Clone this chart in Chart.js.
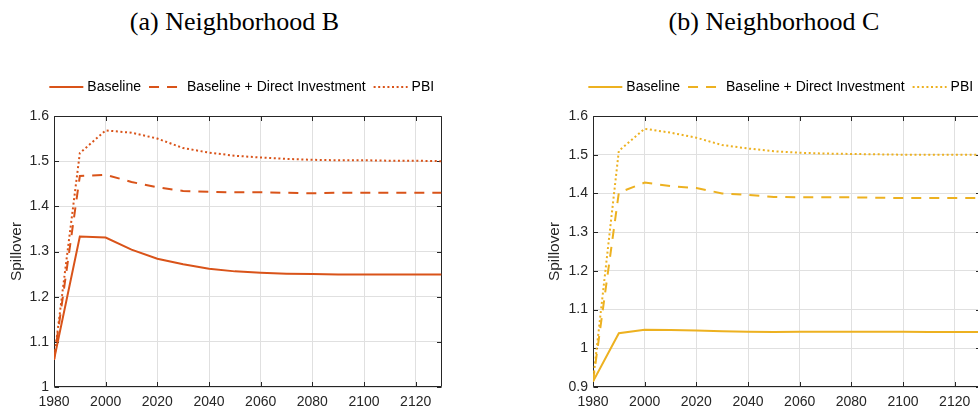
<!DOCTYPE html>
<html>
<head>
<meta charset="utf-8">
<title>Spillover by neighborhood</title>
<script src="https://cdn.jsdelivr.net/npm/chart.js@4/dist/chart.umd.min.js"></script>
<style>
  html, body { margin: 0; padding: 0; background: #fff; overflow: hidden; width: 978px; height: 414px; }
  .panel { position: absolute; top: 0; }
  .title {
    position: absolute; top: 9px; transform: translateX(-50%);
    font-family: "Liberation Serif", "Times New Roman", serif; font-size: 26px; line-height: 26px;
    color: #000; white-space: nowrap;
  }
</style>
</head>
<body>
<div class="title" style="left:234.5px">(a) Neighborhood B</div>
<div class="title" style="left:774px">(b) Neighborhood C</div>
<canvas id="chartB" class="panel" style="left:0px" width="489" height="414"></canvas>
<canvas id="chartC" class="panel" style="left:489px" width="540" height="414"></canvas>
<script>
// Simulation years (x axis)
const years = [1980, 1990, 2000, 2010, 2020, 2030, 2040, 2050, 2060, 2070, 2080, 2090, 2100, 2110, 2120, 2130];
const seriesNames = ['Baseline', 'Baseline + Direct Investment', 'PBI'];

// Neighborhood B
const bBaseline = [1.060, 1.333, 1.331, 1.304, 1.284, 1.272, 1.262, 1.256, 1.253, 1.251, 1.250, 1.249, 1.249, 1.249, 1.249, 1.249];
const bDirect   = [1.060, 1.467, 1.470, 1.454, 1.442, 1.434, 1.432, 1.431, 1.431, 1.430, 1.429, 1.430, 1.430, 1.430, 1.430, 1.430];
const bPBI      = [1.060, 1.518, 1.568, 1.563, 1.550, 1.529, 1.519, 1.512, 1.508, 1.505, 1.503, 1.502, 1.502, 1.501, 1.501, 1.500];

// Neighborhood C
const cBaseline = [0.914, 1.039, 1.048, 1.047, 1.046, 1.044, 1.043, 1.042, 1.043, 1.043, 1.043, 1.043, 1.043, 1.042, 1.042, 1.042];
const cDirect   = [0.914, 1.402, 1.428, 1.419, 1.414, 1.400, 1.396, 1.391, 1.390, 1.390, 1.390, 1.389, 1.388, 1.388, 1.388, 1.388];
const cPBI      = [0.914, 1.510, 1.567, 1.557, 1.544, 1.525, 1.516, 1.509, 1.505, 1.503, 1.502, 1.501, 1.500, 1.500, 1.500, 1.500];

// Axis ranges
const xRange = [1980, 2130];
const xStep = 20;
const yRangeB = [1.0, 1.6];
const yRangeC = [0.9, 1.6];
const yStep = 0.1;

const FONT = '"Liberation Sans", Arial, Helvetica, sans-serif';
const AXIS_COLOR = '#262626';
const GRID_COLOR = '#e0e0e0';
Chart.defaults.font.family = FONT;

const lineStyles = [
  { borderDash: [] },
  { borderDash: [10, 8] },
  { borderDash: [2, 2.6] }
];

// Box around the plot area with inward ticks on all four sides
const boxAxes = {
  id: 'boxAxes',
  beforeDatasetsDraw(chart) {
    const { ctx, chartArea: a, scales } = chart;
    const L = Math.round(a.left) + 0.5, R = Math.round(a.right) - 0.5;
    const T = Math.round(a.top) + 0.5, B = Math.round(a.bottom) - 0.5;
    const tl = 4.5;
    ctx.save();
    ctx.strokeStyle = AXIS_COLOR;
    ctx.lineWidth = 1;
    ctx.setLineDash([]);
    ctx.beginPath();
    ctx.rect(L, T, R - L, B - T);
    scales.x.ticks.forEach(t => {
      const px = Math.round(scales.x.getPixelForValue(t.value)) + 0.5;
      ctx.moveTo(px, B); ctx.lineTo(px, B - tl);
      ctx.moveTo(px, T); ctx.lineTo(px, T + tl);
    });
    scales.y.ticks.forEach(t => {
      const py = Math.round(scales.y.getPixelForValue(t.value)) + 0.5;
      ctx.moveTo(L, py); ctx.lineTo(L + tl, py);
      ctx.moveTo(R, py); ctx.lineTo(R - tl, py);
    });
    ctx.stroke();
    ctx.restore();
  }
};

// Single-row legend above the axes
const lineLegend = {
  id: 'lineLegend',
  afterDraw(chart, args, opts) {
    const { ctx, chartArea: a } = chart;
    const sample = 34, gapText = 4, gapItem = 8;
    ctx.save();
    ctx.font = '14px ' + FONT;
    ctx.textBaseline = 'middle';
    const items = chart.data.datasets.map(ds => ({ ds, w: ctx.measureText(ds.label).width }));
    const total = items.reduce((s, it) => s + sample + gapText + it.w, 0) + gapItem * (items.length - 1);
    let x = (a.left + a.right) / 2 - total / 2 - 6;
    const y = opts.y;
    items.forEach(({ ds, w }) => {
      ctx.strokeStyle = ds.borderColor;
      ctx.lineWidth = ds.borderWidth;
      ctx.lineCap = 'butt';
      ctx.setLineDash(ds.borderDash || []);
      ctx.beginPath();
      ctx.moveTo(x, y);
      ctx.lineTo(x + sample, y);
      ctx.stroke();
      ctx.setLineDash([]);
      ctx.fillStyle = '#000';
      ctx.fillText(ds.label, x + sample + gapText, y + 0.5);
      x += sample + gapText + w + gapItem;
    });
    ctx.restore();
  }
};

function makeChart(id, values, color, yRange, geom) {
  const datasets = values.map((v, i) => ({
    label: seriesNames[i],
    data: v,
    borderColor: color,
    backgroundColor: color,
    borderWidth: 2,
    borderDash: lineStyles[i].borderDash,
    borderCapStyle: 'butt',
    pointRadius: 0,
    pointHoverRadius: 0,
    tension: 0,
    fill: false
  }));
  return new Chart(document.getElementById(id), {
    type: 'line',
    data: { labels: years, datasets },
    options: {
      responsive: false,
      animation: false,
      devicePixelRatio: 1,
      events: [],
      layout: { padding: { left: geom.padLeft, right: geom.padRight, top: 116, bottom: 0 } },
      plugins: {
        legend: { display: false },
        tooltip: { enabled: false },
        lineLegend: { y: 87 }
      },
      scales: {
        x: {
          type: 'linear',
          min: xRange[0], max: xRange[1],
          ticks: {
            stepSize: xStep, includeBounds: false,
            autoSkip: false, maxRotation: 0,
            color: AXIS_COLOR, font: { size: 14 }, padding: 7,
            callback: v => String(v)
          },
          grid: { color: GRID_COLOR, lineWidth: 1, drawTicks: false },
          border: { display: false },
          afterFit: s => { s.height = 27; }
        },
        y: {
          min: yRange[0], max: yRange[1],
          ticks: {
            stepSize: yStep,
            color: AXIS_COLOR, font: { size: 14 }, padding: 5,
            callback: v => String(parseFloat(Number(v).toFixed(1)))
          },
          grid: { color: GRID_COLOR, lineWidth: 1, drawTicks: false },
          border: { display: false },
          title: {
            display: true, text: 'Spillover', color: AXIS_COLOR,
            font: { size: 15.4 }, padding: { top: 7.5, bottom: 0 }
          },
          afterFit: s => { s.width = geom.yWidth; }
        }
      }
    },
    plugins: [boxAxes, lineLegend]
  });
}

makeChart('chartB', [bBaseline, bDirect, bPBI], '#D95319', yRangeB, { padLeft: 0, padRight: 47.5, yWidth: 54 });
makeChart('chartC', [cBaseline, cDirect, cPBI], '#EDB120', yRangeC, { padLeft: 49, padRight: 48.5, yWidth: 55 });
</script>
</body>
</html>
